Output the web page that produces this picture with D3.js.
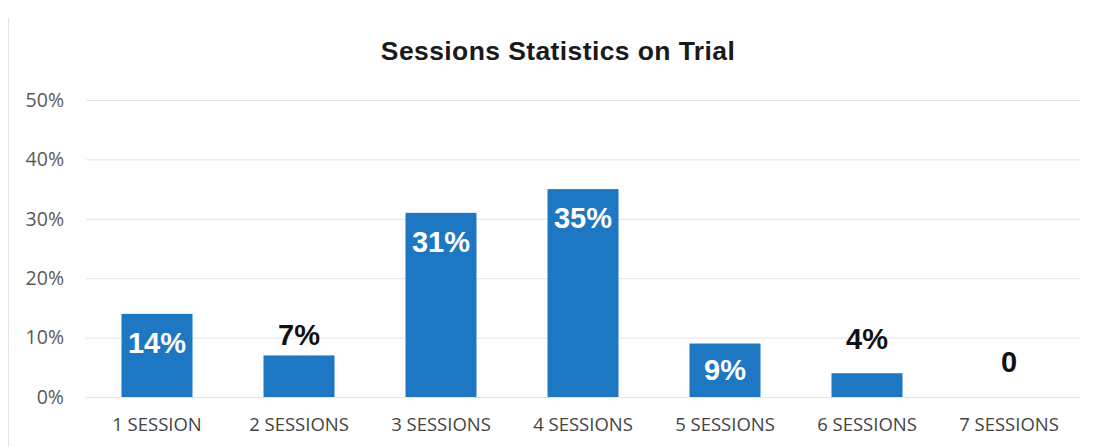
<!DOCTYPE html>
<html>
<head>
<meta charset="utf-8">
<script src="https://cdn.jsdelivr.net/npm/d3@7/dist/d3.min.js"></script>
<style>
  html, body { margin: 0; padding: 0; background: #fff; }
  svg { display: block; }
</style>
</head>
<body>
<svg id="chart" width="1096" height="447"></svg>
<script>
// Chart data
const categories = ["1 SESSION", "2 SESSIONS", "3 SESSIONS", "4 SESSIONS", "5 SESSIONS", "6 SESSIONS", "7 SESSIONS"];
const shares = [14, 7, 31, 35, 9, 4, 0];
const valueLabels = ["14%", "7%", "31%", "35%", "9%", "4%", "0"];
const yTicks = [0, 10, 20, 30, 40, 50];
const titleText = "Sessions Statistics on Trial";

// Label placement: "in" = white label inside the bar, "out" = dark label above it
const labelPlacement = ["in", "out", "in", "in", "in", "out", "out"];
const outsideLift = [0, 5, 0, 0, 0, 19, 20];

const svg = d3.select("#chart");
const W = 1096, H = 447;
const plot = { left: 86, right: 1080, top: 100, bottom: 397 };

const x = d3.scaleBand()
  .domain(categories)
  .range([plot.left, plot.right])
  .paddingInner(0.5)
  .paddingOuter(0.25);

const y = d3.scaleLinear()
  .domain([0, 50])
  .range([plot.bottom, plot.top]);

// Frame edge on the left
svg.append("line")
  .attr("x1", 8.5).attr("x2", 8.5)
  .attr("y1", 18).attr("y2", H)
  .attr("stroke", "#e2e2e2").attr("stroke-width", 1);

// Title
svg.append("text")
  .attr("x", 558).attr("y", 60)
  .attr("text-anchor", "middle")
  .attr("font-family", "Liberation Sans, Arial, sans-serif")
  .attr("font-weight", "bold")
  .attr("font-size", 26.5)
  .attr("letter-spacing", 0.4)
  .attr("fill", "#1a1a1a")
  .text(titleText);

// Gridlines + y tick labels
const yAxis = d3.axisLeft(y)
  .tickValues(yTicks)
  .tickSize(-(plot.right - plot.left))
  .tickPadding(22)
  .tickFormat(d => d + "%");

const gy = svg.append("g")
  .attr("transform", `translate(${plot.left},0)`)
  .call(yAxis);
gy.select(".domain").remove();
gy.selectAll(".tick line")
  .attr("stroke", "#e3e3e3").attr("stroke-width", 1);
gy.selectAll(".tick text")
  .attr("font-family", "Open Sans, sans-serif")
  .attr("font-size", 19.5)
  .attr("fill", "#5a5a5a");

// Bars
svg.append("g").selectAll("rect")
  .data(shares)
  .join("rect")
  .attr("x", (d, i) => x(categories[i]))
  .attr("width", x.bandwidth())
  .attr("y", d => y(d))
  .attr("height", d => y(0) - y(d))
  .attr("fill", "#1d77c2");

// Value labels
svg.append("g").selectAll("text")
  .data(shares)
  .join("text")
  .attr("x", (d, i) => x(categories[i]) + x.bandwidth() / 2)
  .attr("y", (d, i) => {
    if (labelPlacement[i] === "in") {
      const mid = (y(d) + y(0)) / 2;
      return Math.min(y(d) + 29, mid) + 10;
    }
    return y(d) - 5 - outsideLift[i];
  })
  .attr("text-anchor", "middle")
  .attr("font-family", "Liberation Sans, Arial, sans-serif")
  .attr("font-weight", "bold")
  .attr("font-size", 29)
  .attr("fill", (d, i) => labelPlacement[i] === "in" ? "#ffffff" : "#111111")
  .text((d, i) => valueLabels[i]);

// Category axis labels
const xAxis = d3.axisBottom(x).tickSize(0).tickPadding(21);
const gx = svg.append("g")
  .attr("transform", `translate(0,${plot.bottom})`)
  .call(xAxis);
gx.select(".domain").remove();
gx.selectAll(".tick text")
  .attr("font-family", "Open Sans, sans-serif")
  .attr("font-size", 18.5)
  .attr("fill", "#444444");
</script>
</body>
</html>
